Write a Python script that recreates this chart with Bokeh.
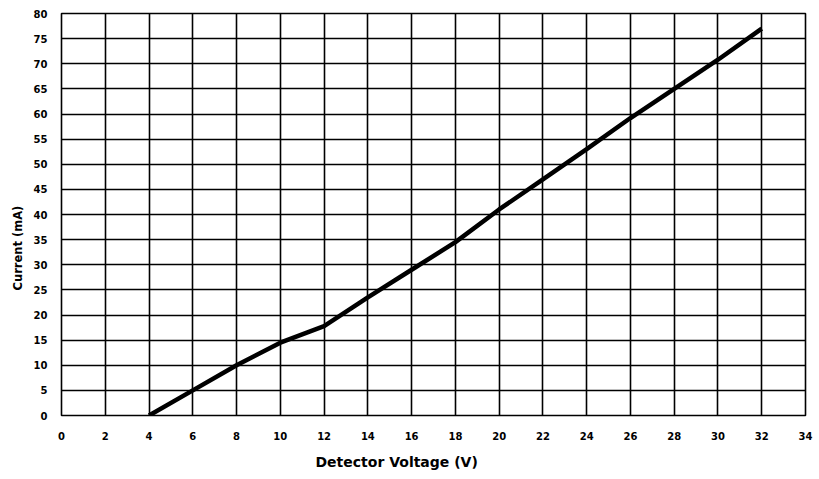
from bokeh.plotting import figure
from bokeh.models import Range1d, FixedTicker, Title
from bokeh.embed import file_html
from bokeh.resources import INLINE

voltage = [4, 6, 8, 10, 12, 14, 16, 18, 20, 22, 24, 26, 28, 30, 32]
current = [0, 5, 10, 14.5, 17.8, 23.5, 29, 34.5, 41, 47, 53, 59.2, 65, 70.8, 77]
x_ticks = list(range(0, 35, 2))
y_ticks = list(range(0, 81, 5))

p = figure(width=813, height=479, output_backend="svg", toolbar_location=None,
           x_range=Range1d(0, 34), y_range=Range1d(0, 80),
           min_border_left=61, min_border_top=13, min_border_right=8, min_border_bottom=64)

p.line(voltage, current, line_color="black", line_width=4.5)

for ax, ticks in ((p.xaxis[0], x_ticks), (p.yaxis[0], y_ticks)):
    ax.ticker = FixedTicker(ticks=ticks)
    ax.major_tick_line_color = None
    ax.minor_tick_line_color = None
    ax.axis_line_color = None
    ax.major_label_text_font = "DejaVu Sans"
    ax.major_label_text_font_style = "bold"
    ax.major_label_text_font_size = "10px"
    ax.major_label_text_color = "black"

p.xaxis.major_label_standoff = 10
p.yaxis.major_label_standoff = 8

xtitle = Title(text="Detector Voltage (V)", align="left", offset=254, standoff=19,
               text_font="DejaVu Sans", text_font_style="bold",
               text_font_size="14px", text_color="black")
p.add_layout(xtitle, "below")

ytitle = Title(text="Current (mA)", align="left", offset=125, standoff=12,
               text_font="DejaVu Sans", text_font_style="bold",
               text_font_size="11.5px", text_color="black")
p.add_layout(ytitle, "left")

p.xgrid.ticker = FixedTicker(ticks=x_ticks)
p.ygrid.ticker = FixedTicker(ticks=y_ticks)
for g in (p.xgrid[0], p.ygrid[0]):
    g.grid_line_color = "black"
    g.grid_line_width = 1.6
    g.grid_line_alpha = 1.0

p.outline_line_color = "black"
p.outline_line_width = 1.6
p.outline_line_alpha = 1.0
p.background_fill_color = "white"
p.border_fill_color = "white"

open("out.html", "w").write(file_html(p, INLINE))
